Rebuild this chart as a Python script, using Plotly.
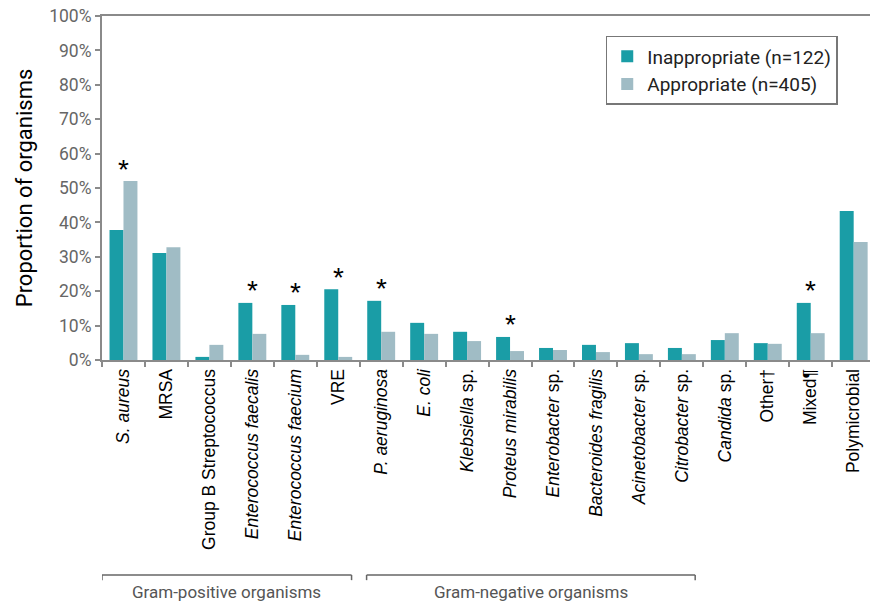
import plotly.graph_objects as go

categories = ["S. aureus", "MRSA", "Group B Streptococcus", "Enterococcus faecalis",
              "Enterococcus faecium", "VRE", "P. aeruginosa", "E. coli", "Klebsiella sp.",
              "Proteus mirabilis", "Enterobacter sp.", "Bacteroides fragilis",
              "Acinetobacter sp.", "Citrobacter sp.", "Candida sp.", "Other", "Mixed",
              "Polymicrobial"]
tick_labels = ["<i>S. aureus</i>", "MRSA", "Group B Streptococcus", "<i>Enterococcus faecalis</i>",
               "<i>Enterococcus faecium</i>", "VRE", "<i>P. aeruginosa</i>", "<i>E. coli</i>",
               "<i>Klebsiella</i> sp.", "<i>Proteus mirabilis</i>", "<i>Enterobacter</i> sp.",
               "<i>Bacteroides fragilis</i>", "<i>Acinetobacter</i> sp.", "<i>Citrobacter</i> sp.",
               "<i>Candida</i> sp.", "Other†", "Mixed¶", "Polymicrobial"]
inappropriate = [37.8, 31.1, 0.9, 16.6, 16.0, 20.6, 17.2, 10.8, 8.2, 6.7, 3.5, 4.4, 4.9, 3.5, 5.8, 4.9, 16.6, 43.3]
appropriate = [52.0, 32.8, 4.4, 7.6, 1.5, 0.9, 8.2, 7.6, 5.5, 2.6, 2.9, 2.3, 1.7, 1.7, 7.8, 4.7, 7.8, 34.3]
significant = ["S. aureus", "Enterococcus faecalis", "Enterococcus faecium", "VRE",
               "P. aeruginosa", "Proteus mirabilis", "Mixed"]
y_ticks = list(range(0, 101, 10))
y_tick_labels = [f"{v}%" for v in y_ticks]
groups = [("Gram-positive organisms", -0.5, 5.31), ("Gram-negative organisms", 5.66, 13.31)]

TEAL = "#1A9DA6"
GREY = "#A0BCC5"
AXIS = "#8a8a8a"

fig = go.Figure()
fig.add_trace(go.Bar(x=categories, y=inappropriate, name="Inappropriate (n=122)",
                     marker=dict(color=TEAL, line=dict(width=0))))
fig.add_trace(go.Bar(x=categories, y=appropriate, name="Appropriate (n=405)",
                     marker=dict(color=GREY, line=dict(width=0))))

for c in significant:
    i = categories.index(c)
    fig.add_annotation(x=c, y=max(inappropriate[i], appropriate[i]), text="*",
                       showarrow=False, yanchor="middle", yshift=12,
                       font=dict(family="Liberation Sans", size=28, color="black"))

for label, x0, x1 in groups:
    fig.add_shape(type="line", xref="x", yref="paper", x0=x0, x1=x1, y0=-0.625, y1=-0.625,
                  line=dict(color="#666", width=1.5))
    for xe in (x0, x1):
        fig.add_shape(type="line", xref="x", yref="paper", x0=xe, x1=xe, y0=-0.625, y1=-0.64,
                      line=dict(color="#666", width=1.5))
    fig.add_annotation(x=(x0 + x1) / 2, y=-0.674, xref="x", yref="paper", text=label,
                       showarrow=False, yanchor="middle",
                       font=dict(family="Roboto", size=17, color="#555"))

fig.update_layout(
    width=870, height=602,
    margin=dict(l=102, r=0, t=16, b=242),
    paper_bgcolor="white", plot_bgcolor="white",
    barmode="group", bargap=0.35, bargroupgap=0,
    showlegend=True,
    legend=dict(x=0.958, y=0.942, xanchor="right", yanchor="top",
                bordercolor="#777", borderwidth=1.5, bgcolor="white",
                font=dict(family="Roboto", size=19, color="#222"),
                itemsizing="constant", tracegroupgap=4),
    xaxis=dict(tickmode="array", tickvals=categories, ticktext=tick_labels,
               tickangle=-90, tickfont=dict(family="Liberation Sans", size=17.5, color="black"),
               range=[-0.5, 17.38], showline=True, linecolor=AXIS, linewidth=2, mirror=True,
               ticks="outside", tickson="boundaries", ticklen=5, tickcolor=AXIS, tickwidth=2,
               showgrid=False, zeroline=False),
    yaxis=dict(range=[0, 100], tickmode="array", tickvals=y_ticks, ticktext=y_tick_labels,
               tickfont=dict(family="Roboto", size=17.5, color="#666"),
               showline=True, linecolor=AXIS, linewidth=2, ticks="outside", ticklen=5,
               tickcolor=AXIS, tickwidth=1.5, showgrid=False, zeroline=False,
               title=dict(text="Proportion of organisms",
                          font=dict(family="Roboto", size=22, color="black"), standoff=10)),
)

fig.write_html("out.html")
